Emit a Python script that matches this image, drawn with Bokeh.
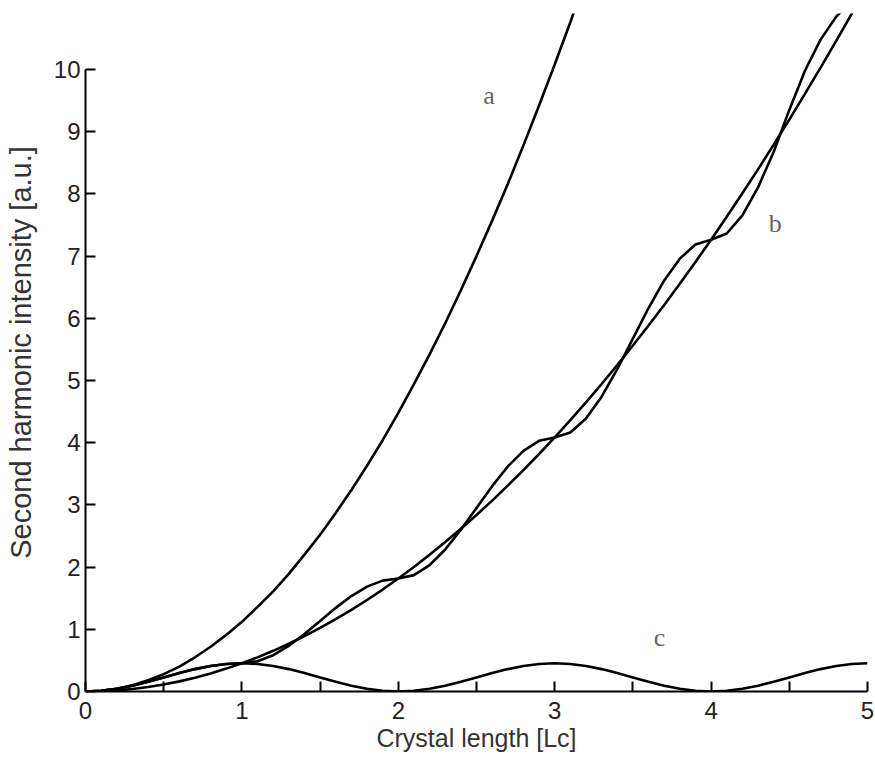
from bokeh.plotting import figure
from bokeh.models import FixedTicker, Range1d, Label
from bokeh.embed import file_html
from bokeh.resources import INLINE

# Crystal length [Lc]
x_len = [0.0, 0.1, 0.2, 0.3, 0.4, 0.5, 0.6, 0.7, 0.8, 0.9,
         1.0, 1.1, 1.2, 1.3, 1.4, 1.5, 1.6, 1.7, 1.8, 1.9,
         2.0, 2.1, 2.2, 2.3, 2.4, 2.5, 2.6, 2.7, 2.8, 2.9,
         3.0, 3.1, 3.2, 3.3, 3.4, 3.5, 3.6, 3.7, 3.8, 3.9,
         4.0, 4.1, 4.2, 4.3, 4.4, 4.5, 4.6, 4.7, 4.8, 4.9, 5.0]

# curve a: phase matched
a_x = [0.0, 0.1, 0.2, 0.3, 0.4, 0.5, 0.6, 0.7, 0.8, 0.9,
       1.0, 1.1, 1.2, 1.3, 1.4, 1.5, 1.6, 1.7, 1.8, 1.9,
       2.0, 2.1, 2.2, 2.3, 2.4, 2.5, 2.6, 2.7, 2.8, 2.9,
       3.0, 3.1, 3.2]
a_vals = [0.0, 0.011, 0.045, 0.10, 0.18, 0.28, 0.40, 0.55, 0.72, 0.91,
          1.12, 1.36, 1.61, 1.89, 2.20, 2.52, 2.87, 3.24, 3.63, 4.04,
          4.48, 4.94, 5.42, 5.92, 6.45, 7.00, 7.57, 8.16, 8.78, 9.42,
          10.08, 10.76, 11.47]

# curve b: quasi phase matched (oscillating)
b_qpm = [0.0, 0.011, 0.043, 0.094, 0.157, 0.227, 0.297, 0.360, 0.411, 0.443,
         0.454, 0.487, 0.584, 0.735, 0.924, 1.135, 1.345, 1.535, 1.686, 1.782,
         1.816, 1.871, 2.032, 2.283, 2.600, 2.950, 3.301, 3.618, 3.869, 4.030,
         4.085, 4.163, 4.389, 4.740, 5.183, 5.674, 6.165, 6.608, 6.959, 7.185,
         7.263, 7.363, 7.653, 8.105, 8.674, 9.35, 9.98, 10.48, 10.85, 11.10, 11.40]

# curve b: quasi phase matched (smooth envelope)
b_smooth = [0.0, 0.005, 0.018, 0.041, 0.073, 0.114, 0.163, 0.222, 0.291, 0.368,
            0.454, 0.549, 0.654, 0.767, 0.890, 1.022, 1.162, 1.312, 1.471, 1.639,
            1.816, 2.002, 2.197, 2.402, 2.615, 2.838, 3.069, 3.310, 3.559, 3.818,
            4.086, 4.363, 4.649, 4.944, 5.248, 5.562, 5.884, 6.215, 6.556, 6.906,
            7.264, 7.632, 8.009, 8.394, 8.789, 9.194, 9.607, 10.03, 10.46, 10.90, 11.35]

# curve c: non phase matched
c_vals = [0.0, 0.011, 0.043, 0.094, 0.157, 0.227, 0.297, 0.360, 0.411, 0.443,
          0.454, 0.443, 0.411, 0.360, 0.297, 0.227, 0.157, 0.094, 0.043, 0.011,
          0.0, 0.011, 0.043, 0.094, 0.157, 0.227, 0.297, 0.360, 0.411, 0.443,
          0.454, 0.443, 0.411, 0.360, 0.297, 0.227, 0.157, 0.094, 0.043, 0.011,
          0.0, 0.011, 0.043, 0.094, 0.157, 0.227, 0.297, 0.360, 0.411, 0.443, 0.454]

x_ticks = [0, 1, 2, 3, 4, 5]
x_minor = [0.5, 1.5, 2.5, 3.5, 4.5]
y_ticks = [0, 1, 2, 3, 4, 5, 6, 7, 8, 9, 10]

curve_labels = ["a", "b", "c"]
label_x = [2.58, 4.41, 3.67]
label_y = [9.58, 7.52, 0.87]

p = figure(width=875, height=762, output_backend="svg", toolbar_location=None,
           x_range=Range1d(0, 5), y_range=Range1d(0, 10.9),
           min_border_left=85, min_border_right=8, min_border_top=13,
           min_border_bottom=71)
p.outline_line_color = None
p.xgrid.visible = False
p.ygrid.visible = False
p.background_fill_color = "white"
p.border_fill_color = "white"

LW = 2.6
p.line(a_x, a_vals, line_color="black", line_width=LW)
p.line(x_len, b_qpm, line_color="black", line_width=LW)
p.line(x_len, b_smooth, line_color="black", line_width=LW)
p.line(x_len, c_vals, line_color="black", line_width=LW)

for t, lx, ly in zip(curve_labels, label_x, label_y):
    p.add_layout(Label(x=lx, y=ly, text=t, text_font="Liberation Serif",
                       text_font_size="26px", text_color="#666666",
                       text_align="center", text_baseline="middle"))

xa = p.xaxis[0]
xa.ticker = FixedTicker(ticks=x_ticks, minor_ticks=x_minor)
xa.bounds = (0, 5)
xa.axis_label = "Crystal length [Lc]"
ya = p.yaxis[0]
ya.ticker = FixedTicker(ticks=y_ticks, minor_ticks=[])
ya.bounds = (0, 10)
ya.axis_label = "Second harmonic intensity [a.u.]"

for ax in (xa, ya):
    ax.axis_line_width = 2
    ax.axis_line_color = "black"
    ax.major_tick_in = 10
    ax.major_tick_out = 0
    ax.minor_tick_in = 10
    ax.minor_tick_out = 0
    ax.major_tick_line_width = 2
    ax.minor_tick_line_width = 2
    ax.major_label_text_font = "Liberation Sans"
    ax.major_label_text_font_size = "24px"
    ax.major_label_text_color = "#222222"
    ax.axis_label_text_font = "Liberation Sans"
    ax.axis_label_text_font_style = "normal"
    ax.axis_label_text_color = "#333333"

xa.axis_label_text_font_size = "25px"
ya.axis_label_text_font_size = "29px"
xa.major_label_standoff = 10
xa.axis_label_standoff = 2
ya.major_label_standoff = 5
ya.axis_label_standoff = 14

open("out.html", "w").write(file_html(p, INLINE))
